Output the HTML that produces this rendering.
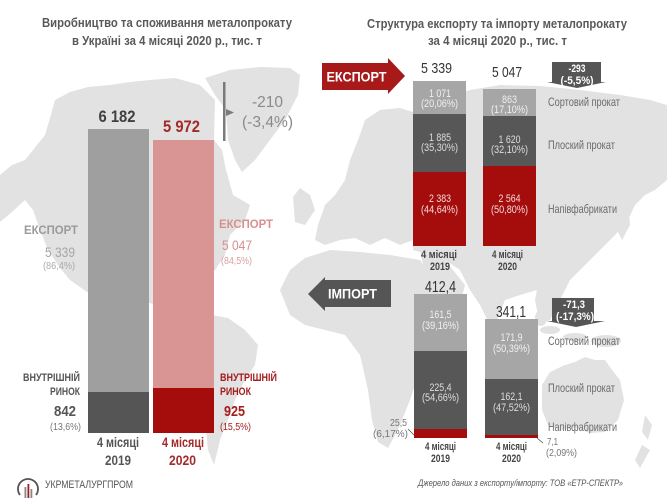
<!DOCTYPE html>
<html><head><meta charset="utf-8"><style>
html,body{margin:0;padding:0;background:#fff;}
svg{display:block;}
text{font-family:"Liberation Sans",Arial,sans-serif;}
</style></head><body>
<svg width="667" height="500" viewBox="0 0 667 500" xmlns="http://www.w3.org/2000/svg">
<rect width="667" height="500" fill="#fff"/>
<!-- world map -->
<g fill="#e2e2e2">
<path d="M0,175 L12,165 L25,160 L33,150 L45,135 L50,118 L55,100 L70,92 L88,87 L110,85 L130,82 L150,80 L175,78 L200,85 L215,100 L214,140 L222,150 L226,170 L233,195 L250,205 L245,220 L230,235 L225,255 L215,270 L200,290 L190,305 L195,320 L185,325 L170,318 L155,305 L130,295 L100,290 L87,292 L70,280 L60,268 L48,250 L40,230 L33,210 L25,200 L12,212 L0,222 Z"/>
<path d="M205,78 L230,70 L260,67 L290,68 L300,75 L298,95 L285,120 L270,140 L255,160 L242,172 L235,160 L228,140 L226,110 L215,95 Z"/>
<path d="M212,315 L228,318 L245,330 L258,345 L255,365 L245,380 L235,400 L228,420 L220,440 L214,465 L208,450 L205,420 L200,390 L195,360 L195,335 Z"/>
<path d="M293,197 L300,188 L310,195 L315,210 L305,225 L295,222 Z"/>
<path d="M318,225 L325,205 L335,195 L345,180 L350,160 L358,140 L365,120 L380,110 L400,108 L413,112 L413,240 L400,245 L385,238 L370,245 L355,238 L340,240 L325,245 L315,240 Z"/>
<path d="M413,110 L440,100 L470,90 L500,85 L540,86 L580,90 L620,95 L650,100 L667,105 L667,180 L655,190 L645,195 L635,205 L628,220 L615,235 L600,250 L585,265 L570,280 L560,300 L550,320 L540,325 L535,300 L537,290 L520,295 L505,300 L497,320 L490,325 L480,305 L470,290 L460,270 L445,260 L430,255 L413,250 Z"/>
<path d="M420,250 L445,260 L465,285 L460,305 L445,315 L432,300 L425,275 Z"/>
<path d="M280,290 L290,270 L305,258 L330,250 L360,252 L390,255 L420,260 L435,285 L450,305 L440,320 L428,340 L420,370 L410,400 L398,430 L388,448 L378,442 L372,420 L368,390 L360,355 L345,335 L325,330 L305,325 L290,315 Z"/>
<ellipse cx="550" cy="330" rx="10" ry="4"/>
<ellipse cx="575" cy="337" rx="12" ry="4"/>
<ellipse cx="606" cy="341" rx="15" ry="6"/>
<ellipse cx="541" cy="318" rx="6" ry="8"/>
<path d="M620,195 L628,200 L630,225 L622,240 L617,230 Z"/>
<path d="M542,385 L550,372 L565,365 L575,362 L585,357 L595,360 L605,360 L612,370 L620,380 L624,400 L618,420 L605,432 L590,433 L575,428 L560,430 L548,425 L542,410 Z"/>
<path d="M645,415 L652,425 L648,440 L642,432 Z"/>
<path d="M642,445 L650,450 L640,468 L635,460 Z"/>
</g>

<!-- LEFT TITLE -->
<g font-weight="bold" font-size="13" fill="#595959" text-anchor="middle">
<text x="167" y="27" textLength="250" lengthAdjust="spacingAndGlyphs">Виробництво та споживання металопрокату</text>
<text x="167" y="45" textLength="190" lengthAdjust="spacingAndGlyphs">в Україні за 4 місяці 2020 р., тис. т</text>
</g>

<!-- LEFT BARS -->
<rect x="88" y="129" width="61" height="263" fill="#9f9f9f"/>
<rect x="88" y="392" width="61" height="41" fill="#555555"/>
<rect x="153" y="140" width="61" height="248" fill="#d99594"/>
<rect x="153" y="388" width="61" height="45" fill="#a50d0d"/>

<text x="117" y="122" font-size="17" font-weight="bold" fill="#404040" text-anchor="middle" textLength="37" lengthAdjust="spacingAndGlyphs">6 182</text>
<text x="181.5" y="132" font-size="17" font-weight="bold" fill="#a22a2a" text-anchor="middle" textLength="37" lengthAdjust="spacingAndGlyphs">5 972</text>

<rect x="223" y="82" width="2.5" height="59" fill="#7a7a7a"/>
<path d="M226,109 L234,112.5 L226,116 Z" fill="#7a7a7a"/>
<text x="267.5" y="107" font-size="16" fill="#8a8a8a" text-anchor="middle" textLength="31" lengthAdjust="spacingAndGlyphs">-210</text>
<text x="267.5" y="127" font-size="16" fill="#8a8a8a" text-anchor="middle" textLength="51" lengthAdjust="spacingAndGlyphs">(-3,4%)</text>

<text x="24" y="234" font-size="11.5" font-weight="bold" fill="#9a9a9a" textLength="54" lengthAdjust="spacingAndGlyphs">ЕКСПОРТ</text>
<text x="60" y="257" font-size="14" fill="#a6a6a6" text-anchor="middle" textLength="30" lengthAdjust="spacingAndGlyphs">5 339</text>
<text x="59" y="269" font-size="10" fill="#aaaaaa" text-anchor="middle" textLength="32" lengthAdjust="spacingAndGlyphs">(86,4%)</text>

<text x="219" y="228" font-size="11.5" font-weight="bold" fill="#d8908f" textLength="54" lengthAdjust="spacingAndGlyphs">ЕКСПОРТ</text>
<text x="237" y="250" font-size="14" fill="#d8908f" text-anchor="middle" textLength="30" lengthAdjust="spacingAndGlyphs">5 047</text>
<text x="236.5" y="264" font-size="10" fill="#d8a0a0" text-anchor="middle" textLength="31" lengthAdjust="spacingAndGlyphs">(84,5%)</text>

<g font-weight="bold" font-size="11" fill="#555">
<text x="80" y="381" text-anchor="end" textLength="57" lengthAdjust="spacingAndGlyphs">ВНУТРІШНІЙ</text>
<text x="80" y="395" text-anchor="end" textLength="30" lengthAdjust="spacingAndGlyphs">РИНОК</text>
<text x="65" y="416" font-size="15" text-anchor="middle" textLength="22" lengthAdjust="spacingAndGlyphs">842</text>
</g>
<text x="65.5" y="430" font-size="10" fill="#777" text-anchor="middle" textLength="31" lengthAdjust="spacingAndGlyphs">(13,6%)</text>

<g font-weight="bold" font-size="11" fill="#a51c1c">
<text x="220" y="381" textLength="57" lengthAdjust="spacingAndGlyphs">ВНУТРІШНІЙ</text>
<text x="220" y="395" textLength="31" lengthAdjust="spacingAndGlyphs">РИНОК</text>
<text x="234.5" y="416" font-size="15" text-anchor="middle" textLength="21" lengthAdjust="spacingAndGlyphs">925</text>
</g>
<text x="235.5" y="430" font-size="10" fill="#a51c1c" text-anchor="middle" textLength="31" lengthAdjust="spacingAndGlyphs">(15,5%)</text>

<g font-weight="bold" font-size="14" text-anchor="middle">
<text x="118" y="447" fill="#555" textLength="42" lengthAdjust="spacingAndGlyphs">4 місяці</text>
<text x="118" y="465" fill="#555" textLength="26" lengthAdjust="spacingAndGlyphs">2019</text>
<text x="183" y="447" fill="#a22a2a" textLength="42" lengthAdjust="spacingAndGlyphs">4 місяці</text>
<text x="182.5" y="465" fill="#a22a2a" textLength="27" lengthAdjust="spacingAndGlyphs">2020</text>
</g>

<!-- LOGO -->
<path d="M20,495 A10,10 0 1 1 36,495" fill="none" stroke="#555" stroke-width="1.8"/>
<rect x="24.5" y="487" width="1.8" height="11" fill="#888"/>
<rect x="27.5" y="484" width="1.8" height="14" fill="#a51c1c"/>
<rect x="30.5" y="489" width="1.8" height="9" fill="#888"/>
<text x="45" y="488" font-size="11" fill="#555" textLength="88" lengthAdjust="spacingAndGlyphs">УКРМЕТАЛУРГПРОМ</text>

<!-- RIGHT TITLE -->
<g font-weight="bold" font-size="13" fill="#595959" text-anchor="middle">
<text x="497" y="28" textLength="260" lengthAdjust="spacingAndGlyphs">Структура експорту та імпорту металопрокату</text>
<text x="497.5" y="45" textLength="139" lengthAdjust="spacingAndGlyphs">за 4 місяці 2020 р., тис. т</text>
</g>

<!-- EXPORT ARROW -->
<path d="M322,63 L388,63 L388,58 L405,76 L388,94 L388,90 L322,90 Z" fill="#a81a1a"/>
<text x="356.5" y="81.5" font-size="14" font-weight="bold" fill="#fff" text-anchor="middle" textLength="60" lengthAdjust="spacingAndGlyphs">ЕКСПОРТ</text>

<!-- EXPORT BARS -->
<rect x="413" y="81" width="53" height="33" fill="#a6a6a6"/>
<rect x="413" y="114" width="53" height="58" fill="#575757"/>
<rect x="413" y="172" width="53" height="74" fill="#a50d0d"/>
<rect x="483" y="89" width="53" height="27" fill="#a6a6a6"/>
<rect x="483" y="116" width="53" height="50" fill="#575757"/>
<rect x="483" y="166" width="53" height="80" fill="#a50d0d"/>

<text x="436.5" y="73" font-size="15" fill="#333" text-anchor="middle" textLength="31" lengthAdjust="spacingAndGlyphs">5 339</text>
<text x="507" y="77" font-size="15" fill="#333" text-anchor="middle" textLength="30" lengthAdjust="spacingAndGlyphs">5 047</text>

<g font-size="11" text-anchor="middle">
<text x="440" y="97" fill="#f0f0f0" textLength="22" lengthAdjust="spacingAndGlyphs">1 071</text>
<text x="439.5" y="107" fill="#f0f0f0" textLength="37" lengthAdjust="spacingAndGlyphs">(20,06%)</text>
<text x="440" y="141" fill="#dddddd" textLength="22" lengthAdjust="spacingAndGlyphs">1 885</text>
<text x="439.5" y="151" fill="#dddddd" textLength="37" lengthAdjust="spacingAndGlyphs">(35,30%)</text>
<text x="440" y="202" fill="#f3dada" textLength="22" lengthAdjust="spacingAndGlyphs">2 383</text>
<text x="439.5" y="213" fill="#f3dada" textLength="37" lengthAdjust="spacingAndGlyphs">(44,64%)</text>
<text x="509.5" y="103" fill="#f0f0f0" textLength="15" lengthAdjust="spacingAndGlyphs">863</text>
<text x="509.5" y="113" fill="#f0f0f0" textLength="37" lengthAdjust="spacingAndGlyphs">(17,10%)</text>
<text x="509.5" y="143" fill="#dddddd" textLength="22" lengthAdjust="spacingAndGlyphs">1 620</text>
<text x="509.5" y="153" fill="#dddddd" textLength="37" lengthAdjust="spacingAndGlyphs">(32,10%)</text>
<text x="509.5" y="202" fill="#f3dada" textLength="22" lengthAdjust="spacingAndGlyphs">2 564</text>
<text x="509.5" y="213" fill="#f3dada" textLength="37" lengthAdjust="spacingAndGlyphs">(50,80%)</text>
</g>

<!-- -293 arrow -->
<path d="M552,62 L601,62 L601,82 L606,82 L577,88 L547,82 L552,82 Z" fill="#555"/>
<text x="577" y="72" font-size="11" font-weight="bold" fill="#fff" text-anchor="middle" textLength="17" lengthAdjust="spacingAndGlyphs">-293</text>
<text x="577" y="84" font-size="11" font-weight="bold" fill="#fff" text-anchor="middle" textLength="33" lengthAdjust="spacingAndGlyphs">(-5,5%)</text>

<g font-size="12" fill="#6a6a6a">
<text x="548" y="106" textLength="72" lengthAdjust="spacingAndGlyphs">Сортовий прокат</text>
<text x="548" y="149" textLength="67" lengthAdjust="spacingAndGlyphs">Плоский прокат</text>
<text x="548" y="213" textLength="69" lengthAdjust="spacingAndGlyphs">Напівфабрикати</text>
<text x="548" y="345" textLength="72" lengthAdjust="spacingAndGlyphs">Сортовий прокат</text>
<text x="548" y="392" textLength="67" lengthAdjust="spacingAndGlyphs">Плоский прокат</text>
<text x="548" y="431" textLength="69" lengthAdjust="spacingAndGlyphs">Напівфабрикати</text>
</g>

<g font-size="11" font-weight="bold" fill="#444" text-anchor="middle">
<text x="439" y="258" textLength="36" lengthAdjust="spacingAndGlyphs">4 місяці</text>
<text x="440" y="270" textLength="20" lengthAdjust="spacingAndGlyphs">2019</text>
<text x="507.5" y="258" textLength="31" lengthAdjust="spacingAndGlyphs">4 місяці</text>
<text x="507.5" y="270" textLength="19" lengthAdjust="spacingAndGlyphs">2020</text>
<text x="440.5" y="450" textLength="31" lengthAdjust="spacingAndGlyphs">4 місяці</text>
<text x="440.5" y="462" textLength="19" lengthAdjust="spacingAndGlyphs">2019</text>
<text x="511.5" y="450" textLength="31" lengthAdjust="spacingAndGlyphs">4 місяці</text>
<text x="511.5" y="462" textLength="19" lengthAdjust="spacingAndGlyphs">2020</text>
</g>

<!-- IMPORT ARROW -->
<path d="M308,294 L325,277 L325,280 L391,280 L391,307 L325,307 L325,311 Z" fill="#555"/>
<text x="352.5" y="298.5" font-size="14" font-weight="bold" fill="#fff" text-anchor="middle" textLength="49" lengthAdjust="spacingAndGlyphs">ІМПОРТ</text>

<!-- IMPORT BARS -->
<rect x="414" y="294" width="53" height="57" fill="#a6a6a6"/>
<rect x="414" y="351" width="53" height="78" fill="#575757"/>
<rect x="414" y="429" width="53" height="9" fill="#a50d0d"/>
<rect x="485" y="319" width="53" height="60" fill="#a6a6a6"/>
<rect x="485" y="379" width="53" height="56" fill="#575757"/>
<rect x="485" y="435" width="53" height="3" fill="#a50d0d"/>

<text x="440.5" y="292" font-size="16" fill="#333" text-anchor="middle" textLength="31" lengthAdjust="spacingAndGlyphs">412,4</text>
<text x="511" y="317" font-size="16" fill="#333" text-anchor="middle" textLength="30" lengthAdjust="spacingAndGlyphs">341,1</text>

<g font-size="11" text-anchor="middle">
<text x="440.5" y="318" fill="#f0f0f0" textLength="22" lengthAdjust="spacingAndGlyphs">161,5</text>
<text x="440.5" y="329" fill="#f0f0f0" textLength="37" lengthAdjust="spacingAndGlyphs">(39,16%)</text>
<text x="440.5" y="391" fill="#dddddd" textLength="22" lengthAdjust="spacingAndGlyphs">225,4</text>
<text x="440.5" y="401" fill="#dddddd" textLength="37" lengthAdjust="spacingAndGlyphs">(54,66%)</text>
<text x="511.5" y="341" fill="#f0f0f0" textLength="22" lengthAdjust="spacingAndGlyphs">171,9</text>
<text x="511.5" y="352" fill="#f0f0f0" textLength="37" lengthAdjust="spacingAndGlyphs">(50,39%)</text>
<text x="511.5" y="400" fill="#dddddd" textLength="22" lengthAdjust="spacingAndGlyphs">162,1</text>
<text x="511.5" y="411" fill="#dddddd" textLength="37" lengthAdjust="spacingAndGlyphs">(47,52%)</text>
</g>

<!-- -71,3 arrow -->
<path d="M552,298 L594,298 L594,321 L605,321 L576,327 L547,321 L552,321 Z" fill="#555"/>
<text x="574" y="308" font-size="11" font-weight="bold" fill="#fff" text-anchor="middle" textLength="22" lengthAdjust="spacingAndGlyphs">-71,3</text>
<text x="575" y="320" font-size="11" font-weight="bold" fill="#fff" text-anchor="middle" textLength="38" lengthAdjust="spacingAndGlyphs">(-17,3%)</text>

<!-- small labels -->
<g font-size="10" fill="#777">
<text x="407" y="426" text-anchor="end" textLength="17" lengthAdjust="spacingAndGlyphs">25,5</text>
<text x="408" y="437" text-anchor="end" textLength="35" lengthAdjust="spacingAndGlyphs">(6,17%)</text>
<text x="547" y="445" textLength="11" lengthAdjust="spacingAndGlyphs">7,1</text>
<text x="546" y="456" textLength="31" lengthAdjust="spacingAndGlyphs">(2,09%)</text>
</g>
<line x1="408" y1="429" x2="414" y2="435" stroke="#555" stroke-width="0.8"/>
<line x1="537" y1="438" x2="543" y2="443" stroke="#555" stroke-width="0.8"/>

<text x="418" y="486" font-size="9.5" font-style="italic" fill="#555" textLength="205" lengthAdjust="spacingAndGlyphs">Джерело даних з експорту/імпорту:  ТОВ «ЕТР-СПЕКТР»</text>
</svg>
</body></html>
